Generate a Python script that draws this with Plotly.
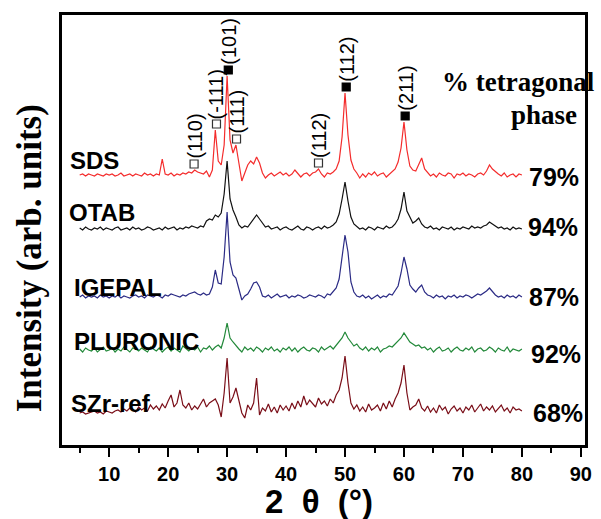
import plotly.graph_objects as go

# 2-theta scan grid (degrees), 0.5 deg steps from 5 to 80
two_theta = [5 + 0.5 * i for i in range(151)]

series_names = ["SDS", "OTAB", "IGEPAL", "PLURONIC", "SZr-ref"]
tetragonal_pct = ["79%", "94%", "87%", "92%", "68%"]
# vertical stacking offsets (arb. units)
offsets = [270, 216, 148, 95, 32]

sds = [0, 1, -1, 1, 0, -1, 1, 0, -1, 1,
       0, 1, -1, 0, 2, -1, 0, 1, -1, 1,
       0, -1, 2, 0, 1, -1, 1, 0, 16, 1,
       0, 2, -1, 1, 0, 2, 1, 3, 2, 5,
       3, 2, 1, 4, -2, 5, 45, 14, 10, 30,
       99, 35, 22, 30, 10, -6, 2, 10, 14, 11,
       18, 12, 2, -3, 0, 2, -1, 1, 3, 0,
       2, -1, 1, 5, 1, -2, 1, 2, -1, 2,
       3, 6, 1, -2, 2, 1, 3, 6, 14, 38,
       82, 40, 15, 6, 2, -3, 1, -2, 2, 0,
       3, -1, 1, 2, -2, 1, 3, 6, 13, 27,
       53, 25, 9, 5, 4, 10, 17, 6, 2, -1,
       1, -2, 2, 0, -1, 2, 1, -3, 1, 0,
       2, -1, 1, 0, -2, 1, 2, 0, 4, 10,
       6, 3, 1, -1, 2, -2, 0, 1, -2, 1,
       0]

otab = [1, -1, 2, 0, -1, 1, 0, 2, -1, 1,
        0, -1, 1, 2, -1, 0, 1, -1, 2, 0,
        1, -1, 0, 2, 1, -1, 0, 1, -1, 2,
        0, 1, 2, -1, 1, 0, 2, 1, 3, 2,
        1, 3, 2, 8, 10, 9, 14, 12, 16, 35,
        68, 30, 19, 12, 4, 1, 3, 2, 6, 10,
        14, 10, 6, 2, 3, 0, 1, 2, -1, 1,
        2, 0, -1, 1, 3, 0, -1, 2, 1, -1,
        1, 2, 0, 3, 1, 2, 4, 7, 15, 30,
        47, 28, 12, 5, 2, 0, 1, -1, 2, 1,
        -1, 2, 1, 0, 3, 1, 2, 5, 10, 20,
        37, 18, 12, 6, 8, 11, 5, 2, 1, 3,
        0, 1, -1, 2, 1, 0, 2, -1, 1, 0,
        2, 1, 0, 3, 1, 2, 1, 3, 4, 7,
        5, 3, 1, 2, 0, 1, -1, 2, 0, 1,
        0]

igepal = [0, 2, -1, 1, 0, 1, -1, 2, 0, 1,
          -1, 1, 0, 2, -1, 1, 0, -1, 1, 2,
          0, 1, -1, 2, 1, 0, 2, 1, -1, 2,
          1, 3, 2, 1, 0, 2, 1, 3, 4, 5,
          3, 2, 4, 2, 3, 10, 27, 14, 13, 40,
          85, 35, 22, 19, 8, -3, 1, 3, 8, 14,
          15, 10, 1, 0, 2, -1, 1, 3, 0, 1,
          2, -1, 1, 0, 2, 1, -1, 0, 2, 1,
          0, 2, 1, -1, 3, 2, 5, 9, 18, 40,
          62, 45, 15, 5, 1, 0, 2, -1, 1, -2,
          0, 2, -1, 1, 0, 3, 2, 6, 11, 24,
          40, 28, 12, 8, 5, 9, 12, 5, 2, 1,
          -1, 2, 0, 1, -2, 1, 0, 2, -1, 1,
          0, 2, 1, -1, 1, 3, 2, 4, 6, 9,
          5, 2, 0, 1, -1, 2, 0, 1, -1, 2,
          0]

pluronic = [1, -2, 2, 0, -1, 2, -2, 1, 3, -1,
            0, 2, -2, 1, -1, 3, 0, -2, 2, 1,
            -1, 2, 0, -2, 3, 1, -1, 2, -2, 1,
            3, -1, 2, 0, -2, 4, 1, -1, 2, 0,
            3, -2, 2, 1, 4, 0, 3, 5, 2, 12,
            27, 12, 8, 4, 1, -2, 3, 0, 2, -1,
            3, 1, -2, 2, 0, 3, -1, 1, -2, 2,
            0, 3, -1, 2, -2, 1, 3, 0, -1, 2,
            1, -2, 3, 0, 2, 4, 1, 5, 8, 12,
            18, 12, 8, 4, 6, 2, 0, 3, -1, 2,
            0, 3, -2, 1, 2, 4, 3, 6, 8, 12,
            17, 13, 8, 6, 4, 5, 2, 3, 0, 2,
            -2, 1, 3, -1, 0, 2, -2, 1, 3, 0,
            -1, 2, 0, 3, -2, 1, 2, -1, 0, 3,
            1, -2, 2, 0, -1, 3, -2, 1, 0, -1,
            1]

szr_ref = [0, 1, -1, 0, 1, 2, 0, 1, -1, 2,
           1, 0, 2, 3, 1, 4, 2, 5, 3, 1,
           6, 3, 5, 2, 8, 4, 7, 3, 9, 5,
           12, 18, 6, 10, 23, 8, 5, 10, 3, 7,
           4, 9, 14, 6, 10, 12, 14, 8, -4, 20,
           55, 10, 16, 25, 12, 0, -5, 8, 3, 10,
           35, -2, 5, 2, 9, 1, 6, 0, 8, 3,
           7, 2, 10, 4, 12, 6, 17, 8, 13, 10,
           6, 15, 9, 12, 7, 14, 10, 18, 23, 35,
           57, 30, 10, 4, 8, 2, 6, 1, 9, 3,
           5, 8, 2, 10, 4, 12, 6, 14, 20, 30,
           48, 20, 3, 6, 8, 14, 5, 2, 7, 1,
           5, 0, 8, 3, 6, -1, 4, 7, 2, 5,
           0, 6, 3, 8, 1, 5, 9, 2, 6, 3,
           7, 1, 4, 8, 2, 5, 0, 6, 3, 4,
           2]

intensities = [sds, otab, igepal, pluronic, szr_ref]
colors = ["#F42C2C", "#111111", "#2B2B85", "#23893A", "#7A0E18"]

# reflections marked on the SDS pattern
refl_labels = ["(110)", "(-111)", "(101)", "(111)", "(112)", "(112)", "(211)"]
refl_2theta = [24.4, 28.2, 30.2, 31.6, 45.5, 50.2, 60.2]
refl_phase = ["m", "m", "t", "m", "m", "t", "t"]  # m: monoclinic (open), t: tetragonal (filled)

# label placement (styles / positions)
name_pos = [(3.0, 285), (2.85, 233), (3.7, 158), (3.7, 104), (3.2, 42)]
pct_pos = [(85.5, 268), (85.2, 218), (85.4, 148), (85.7, 91), (86.2, 32)]

fig = go.Figure()
for name, inten, off, col in zip(series_names, intensities, offsets, colors):
    fig.add_trace(go.Scatter(x=two_theta, y=[off + v for v in inten], mode="lines",
                             line=dict(color=col, width=1.2), name=name, hoverinfo="skip"))

# marker positions from SDS pattern
sds_y = [offsets[0] + v for v in sds]
mk_y = []
for t in refl_2theta:
    vals = [yv for xv, yv in zip(two_theta, sds_y) if abs(xv - t) <= 0.5]
    mk_y.append(max(vals) + 6)

for ph, fill, line_col in [("m", "white", "#333333"), ("t", "black", "black")]:
    xs = [t for t, p in zip(refl_2theta, refl_phase) if p == ph]
    ys = [y for y, p in zip(mk_y, refl_phase) if p == ph]
    fig.add_trace(go.Scatter(x=xs, y=ys, mode="markers",
                             marker=dict(symbol="square", size=8, color=fill,
                                         line=dict(color=line_col, width=1.2)),
                             hoverinfo="skip"))

annotations = []
for lab, t, y in zip(refl_labels, refl_2theta, mk_y):
    annotations.append(dict(x=t, y=y, text=lab, textangle=-90, showarrow=False,
                            xanchor="center", yanchor="bottom", yshift=3,
                            font=dict(family="Liberation Sans, Arial", size=20, color="black")))

for name, (px, py) in zip(series_names, name_pos):
    annotations.append(dict(x=px, y=py, text="<b>%s</b>" % name, showarrow=False,
                            xanchor="left", yanchor="middle",
                            font=dict(family="Liberation Sans, Arial", size=24, color="black")))
for pct, (px, py) in zip(tetragonal_pct, pct_pos):
    annotations.append(dict(x=px, y=py, text="<b>%s</b>" % pct, showarrow=False,
                            xanchor="center", yanchor="middle",
                            font=dict(family="Liberation Sans, Arial", size=25, color="black")))

annotations.append(dict(x=79.5, y=363, text="<b>% tetragonal</b>", showarrow=False,
                        xanchor="center", yanchor="middle",
                        font=dict(family="Liberation Serif, Times New Roman", size=27, color="black")))
annotations.append(dict(x=83.8, y=330, text="<b>phase</b>", showarrow=False,
                        xanchor="center", yanchor="middle",
                        font=dict(family="Liberation Serif, Times New Roman", size=27, color="black")))

annotations.append(dict(x=-0.0604, y=0.435, xref="paper", yref="paper",
                        text="<b>Intensity (arb. units)</b>", textangle=-90, showarrow=False,
                        xanchor="center", yanchor="middle",
                        font=dict(family="Liberation Serif, Times New Roman", size=35, color="black")))
annotations.append(dict(x=0.492, y=-0.131, xref="paper", yref="paper",
                        text="<b>2&nbsp;&nbsp;θ&nbsp;&nbsp;(°)</b>", showarrow=False,
                        xanchor="center", yanchor="middle",
                        font=dict(family="Liberation Sans, Arial", size=33, color="black")))

fig.update_layout(
    width=601, height=519,
    margin=dict(l=62, r=9, t=15, b=74),
    plot_bgcolor="white", paper_bgcolor="white",
    showlegend=False,
    annotations=annotations,
    xaxis=dict(range=[2.0, 90.7], tickmode="linear", tick0=10, dtick=10,
               ticks="outside", ticklen=9, tickwidth=2, tickcolor="black",
               minor=dict(ticks="outside", ticklen=5, tickwidth=2, tickcolor="black", dtick=5, tick0=5),
               showline=True, linewidth=2.5, linecolor="black", mirror=True,
               showgrid=False, zeroline=False,
               tickfont=dict(family="Liberation Sans, Arial", size=20, color="black"),
               tickprefix="<b>", ticksuffix="</b>", ticklabelstandoff=0),
    yaxis=dict(range=[0, 430], showticklabels=False, ticks="",
               showline=True, linewidth=2.5, linecolor="black", mirror=True,
               showgrid=False, zeroline=False),
)

fig.write_html("out.html")
